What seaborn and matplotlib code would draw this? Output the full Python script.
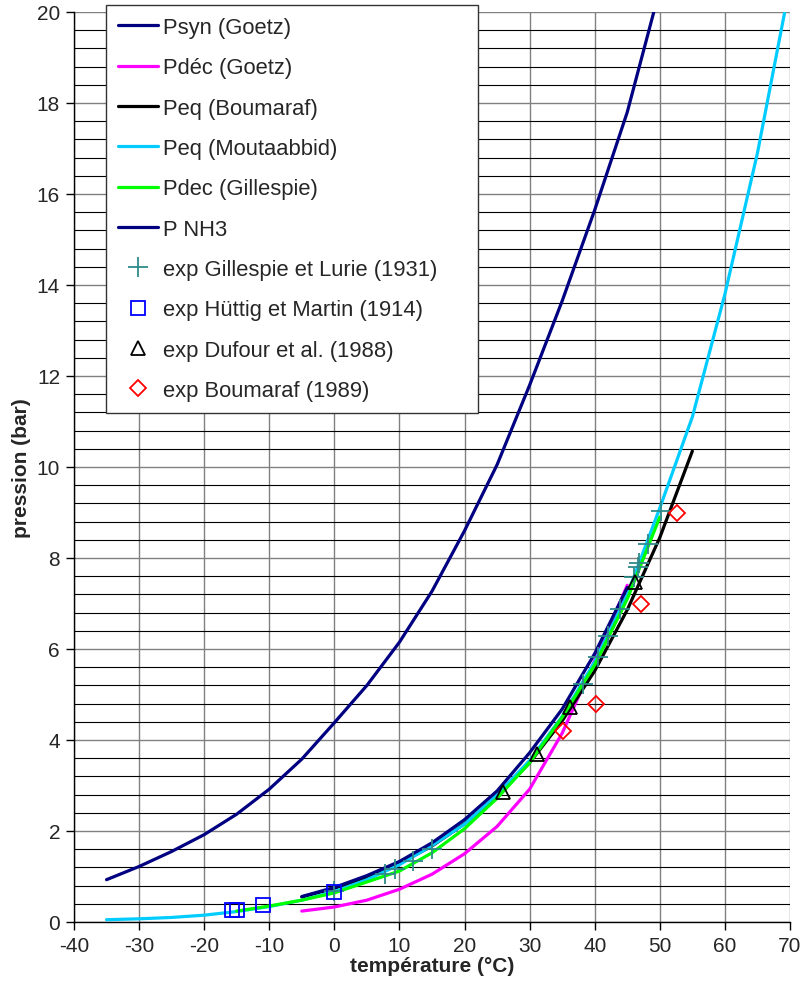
import matplotlib
matplotlib.use("Agg")
import matplotlib.pyplot as plt
import seaborn as sns
import pandas as pd
from matplotlib.lines import Line2D

sns.set_style("white")
plt.rcParams['font.family'] = ['Liberation Sans', 'DejaVu Sans']
plt.rcParams['axes.unicode_minus'] = False

# ---- data ----
t_psyn = [-35, -30, -25, -20, -15, -10, -5, 0, 5, 10, 15, 20, 25, 30, 35, 40, 45, 50]
p_psyn = [0.93, 1.22, 1.55, 1.92, 2.37, 2.92, 3.58, 4.38, 5.2, 6.15, 7.27, 8.6, 10.05, 11.8, 13.65, 15.65, 17.8, 20.5]

t_pdec_goetz = [-5, 0, 5, 10, 15, 20, 25, 30, 35, 40, 45]
p_pdec_goetz = [0.24, 0.33, 0.48, 0.72, 1.05, 1.5, 2.1, 2.92, 4.15, 5.75, 7.4]

t_peq_boum = [-5, 0, 5, 10, 15, 20, 25, 30, 35, 40, 45, 50, 55]
p_peq_boum = [0.55, 0.74, 0.98, 1.29, 1.67, 2.16, 2.76, 3.5, 4.42, 5.52, 6.86, 8.45, 10.35]

t_peq_mout = [-35, -30, -25, -20, -15, -10, -5, 0, 5, 10, 15, 20, 25, 30, 35, 40, 45, 50, 55, 60, 65, 70]
p_peq_mout = [0.05, 0.07, 0.10, 0.15, 0.23, 0.34, 0.48, 0.67, 0.93, 1.26, 1.68, 2.15, 2.8, 3.55, 4.52, 5.72, 7.2, 9.1, 11.1, 13.8, 16.9, 20.6]

t_pdec_gill = [-15, -10, -5, 0, 5, 10, 15, 20, 25, 30, 35, 40, 45, 50]
p_pdec_gill = [0.24, 0.35, 0.48, 0.64, 0.88, 1.12, 1.52, 2.05, 2.72, 3.5, 4.5, 5.65, 7.1, 8.9]

t_pnh3 = [-5, 0, 5, 10, 15, 20, 25, 30, 35, 40, 45]
p_pnh3 = [0.56, 0.76, 1.02, 1.33, 1.74, 2.25, 2.88, 3.72, 4.68, 5.9, 7.35]

t_gill_exp = [0, 7.8, 9.3, 12.1, 15, 38.2, 40.5, 42.1, 43.9, 46.0, 46.6, 46.8, 48.2, 50.2]
p_gill_exp = [0.68, 1.05, 1.16, 1.34, 1.6, 5.23, 5.82, 6.29, 6.88, 7.58, 7.8, 7.9, 8.3, 9.03]

t_huttig = [-15.7, -15.0, -11.0, 0.0]
p_huttig = [0.26, 0.26, 0.37, 0.66]

t_dufour = [25.9, 31.1, 36.2, 46.2]
p_dufour = [2.86, 3.69, 4.73, 7.47]

t_boum_exp = [35.1, 40.2, 47.1, 52.6]
p_boum_exp = [4.2, 4.79, 6.99, 9.0]

labels = ["Psyn (Goetz)", "Pdéc (Goetz)", "Peq (Boumaraf)", "Peq (Moutaabbid)",
          "Pdec (Gillespie)", "P NH3", "exp Gillespie et Lurie (1931)",
          "exp Hüttig et Martin (1914)", "exp Dufour et al. (1988)", "exp Boumaraf (1989)"]

x_ticks = list(range(-40, 71, 10))
y_ticks = list(range(0, 21, 2))

# ---- figure ----
fig = plt.figure(figsize=(8.06, 9.87), dpi=100)
ax = fig.add_axes([74/806, 1-923/987, (790-74)/806, (923-13)/987])

lw = 2.3
line_series = [
    (t_psyn, p_psyn, "#000080"),
    (t_pdec_goetz, p_pdec_goetz, "#FF00FF"),
    (t_peq_boum, p_peq_boum, "#000000"),
    (t_peq_mout, p_peq_mout, "#00CCFF"),
    (t_pdec_gill, p_pdec_gill, "#00FF00"),
    (t_pnh3, p_pnh3, "#000080"),
]
for (tx, py, c), lab in zip(line_series, labels[:6]):
    df = pd.DataFrame({"t": tx, "p": py})
    sns.lineplot(data=df, x="t", y="p", ax=ax, color=c, linewidth=lw,
                 estimator=None, sort=False, legend=False, zorder=3)

marker_series = [
    (t_gill_exp, p_gill_exp, "+", "#2E8B8B", 14),
    (t_huttig, p_huttig, "s", "#0000FF", 10),
    (t_dufour, p_dufour, "^", "#000000", 10.5),
    (t_boum_exp, p_boum_exp, "D", "#FF0000", 8),
]
for tx, py, m, c, ms in marker_series:
    df = pd.DataFrame({"t": tx, "p": py})
    sns.lineplot(data=df, x="t", y="p", ax=ax, estimator=None, sort=False,
                 legend=False, linestyle="", marker=m, markersize=ms,
                 markerfacecolor="none", markeredgecolor=c, markeredgewidth=1.3,
                 color=c, zorder=4)

ax.set_xlim(-40, 70)
ax.set_ylim(0, 20)
ax.set_xticks(x_ticks)
ax.set_yticks(y_ticks)
ax.set_yticks([i * 0.4 for i in range(51)], minor=True)
ax.grid(True, which="major", axis="both", color="#808080", linewidth=1.0, zorder=0)
ax.grid(True, which="minor", axis="y", color="#000000", linewidth=0.8, zorder=0)
ax.set_axisbelow(True)

for s in ["top", "right"]:
    ax.spines[s].set_visible(False)
for s in ["left", "bottom"]:
    ax.spines[s].set_color("black")
    ax.spines[s].set_linewidth(1.0)

ax.tick_params(axis="both", which="major", direction="out", length=6, width=1,
               color="black", labelsize=15, pad=4, bottom=True, left=True)
ax.tick_params(axis="y", which="minor", length=0)

ax.set_xlabel("température (°C)", fontsize=15, fontweight="bold", labelpad=1)
ax.set_ylabel("pression (bar)", fontsize=15, fontweight="bold", labelpad=4)

# ---- legend ----
handles = []
for (tx, py, c), lab in zip(line_series, labels[:6]):
    handles.append(Line2D([], [], color=c, linewidth=lw, label=lab))
for (tx, py, m, c, ms), lab in zip(marker_series, labels[6:]):
    handles.append(Line2D([], [], linestyle="", marker=m, markersize=ms,
                          markerfacecolor="none", markeredgecolor=c,
                          markeredgewidth=1.3, label=lab))

leg = fig.legend(handles=handles, loc="upper left",
                 bbox_to_anchor=(106/806, 1-6/987-0.01, (478-106)/806, 0.01),
                 mode="expand", fontsize=15.8, frameon=True, fancybox=False,
                 framealpha=1, edgecolor="#333333", labelspacing=0.88,
                 handlelength=1.8, handletextpad=0.25, borderpad=0.55,
                 borderaxespad=0)
leg.get_frame().set_linewidth(1.0)

fig.savefig("out.png", dpi=100)
